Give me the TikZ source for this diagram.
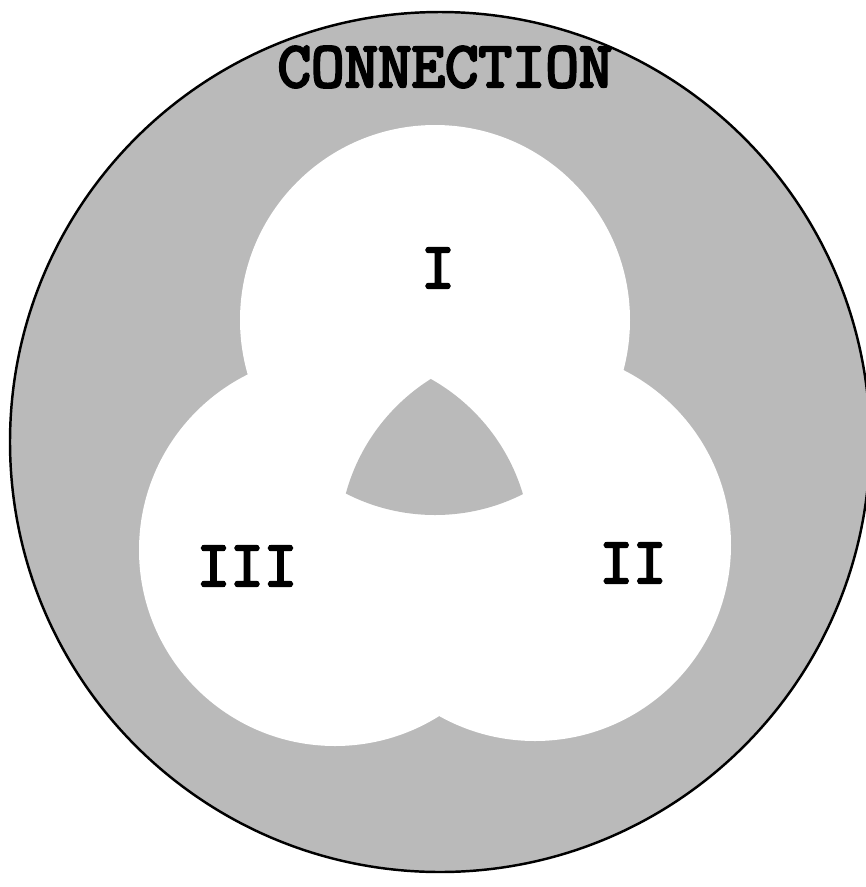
\documentclass[tikz,border=0pt]{standalone}
\usepackage{fontspec}
\setmonofont{Latin Modern Mono}[BoldFont={Latin Modern Mono},BoldFeatures={FakeBold=4}]

\begin{document}
\begin{tikzpicture}[
    x=0.02cm, y=-0.02cm,
    every node/.style={font=\ttfamily\bfseries\fontsize{37}{37}\selectfont},
    shade area/.style={fill=black!27},
    free area/.style={fill=white},
    rim/.style={draw, line width=1.4pt}
]
\useasboundingbox (0,0) rectangle (866,887);
\coordinate (whole) at (440,442);
\coordinate (one) at (435,320);
\coordinate (two) at (535,545);
\coordinate (three) at (335,550);
% outer region
\fill[shade area] (whole) circle[radius=430];
% the three areas
\fill[free area] (one) circle[radius=195] (two) circle[radius=196] (three) circle[radius=196];
% common part of all three
\begin{scope}
  \clip (one) circle[radius=195];
  \clip (two) circle[radius=196];
  \fill[shade area] (three) circle[radius=196];
\end{scope}
\draw[rim] (whole) circle[radius=430];
\node (connection) at (445,67) {CONNECTION};
\node (labelI) at (438,268) {I};
\node (labelII) at (633,563) {II};
\node (labelIII) at (247,566) {III};
\end{tikzpicture}
\end{document}
